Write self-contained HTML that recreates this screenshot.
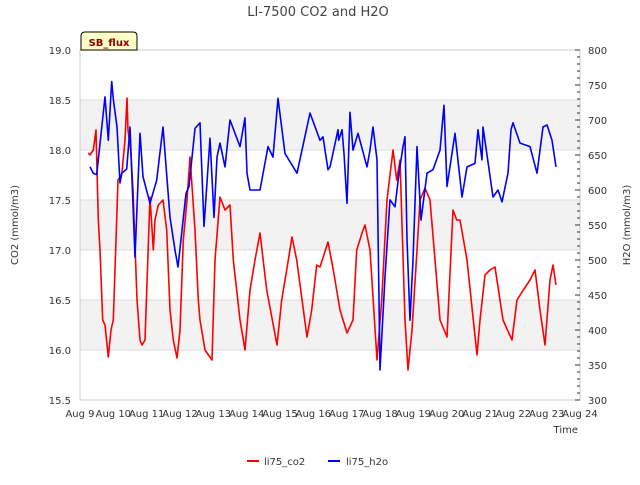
<!DOCTYPE html>
<html><head><meta charset="utf-8"><style>
body{margin:0;background:#fff;}
svg{font-family:"DejaVu Sans","Liberation Sans",sans-serif;}
</style></head><body>
<svg id="c" width="640" height="480" viewBox="0 0 640 480">
<text x="318" y="16" text-anchor="middle" font-size="13" fill="#444">LI-7500 CO2 and H2O</text>
<g id="bands"></g><g id="grid"></g>
<rect x="80" y="50" width="500" height="350" fill="none" stroke="#ccc"/>
<g id="lticks"></g><g id="rticks"></g><g id="xticks"></g>
<g id="series"></g>
<text transform="translate(18,225) rotate(-90)" text-anchor="middle" font-size="10" fill="#333">CO2 (mmol/m3)</text>
<text transform="translate(630,225) rotate(-90)" text-anchor="middle" font-size="10" fill="#333">H2O (mmol/m3)</text>
<text x="578" y="433" text-anchor="end" font-size="10" fill="#333">Time</text>
<g>
<path d="M81,50 V36 Q81,32 85,32 H133 Q137,32 137,36 V50 Z" fill="#ffffc8" stroke="#000"/>
<text x="109" y="46" text-anchor="middle" font-size="10" font-weight="bold" fill="#8b0000">SB_flux</text></g>
<g>
<g><line x1="247" y1="461" x2="259" y2="461" stroke="red" stroke-width="2"/><text x="264" y="465" font-size="10" fill="#333">li75_co2</text></g>
<g><line x1="328" y1="461" x2="340" y2="461" stroke="blue" stroke-width="2"/><text x="346" y="465" font-size="10" fill="#333">li75_h2o</text></g>
</g>
</svg>
<script>
const xTickLabels=["Aug 9","Aug 10","Aug 11","Aug 12","Aug 13","Aug 14","Aug 15","Aug 16","Aug 17","Aug 18","Aug 19","Aug 20","Aug 21","Aug 22","Aug 23","Aug 24"];
const leftTicks=[15.5,16.0,16.5,17.0,17.5,18.0,18.5,19.0];
const rightTicks=[300,350,400,450,500,550,600,650,700,750,800];
const co2Days=[0.25,0.3,0.4,0.48,0.55,0.6,0.68,0.75,0.85,0.93,1.0,1.05,1.14,1.25,1.35,1.41,1.44,1.52,1.59,1.71,1.8,1.86,1.95,2.1,2.2,2.25,2.35,2.49,2.6,2.7,2.8,2.91,3.0,3.1,3.21,3.3,3.45,3.55,3.6,3.75,3.96,4.05,4.2,4.35,4.5,4.6,4.8,4.95,5.1,5.25,5.4,5.6,5.91,6.05,6.2,6.36,6.5,6.81,6.95,7.1,7.2,7.44,7.6,7.8,8.01,8.19,8.3,8.49,8.55,8.7,8.91,9.05,9.21,9.39,9.5,9.6,9.75,9.84,9.96,10.11,10.2,10.35,10.5,10.65,10.8,11.01,11.19,11.3,11.4,11.61,11.8,11.91,12.0,12.15,12.3,12.45,12.69,12.96,13.11,13.3,13.5,13.65,13.8,13.95,14.1,14.19,14.28];
const co2Values=[17.97,17.95,18.0,18.2,17.3,17.0,16.3,16.25,15.93,16.2,16.3,16.8,17.7,17.75,18.1,18.52,18.2,18.0,17.6,16.5,16.1,16.05,16.1,17.53,17.0,17.3,17.45,17.5,17.2,16.4,16.1,15.92,16.2,17.1,17.5,17.93,17.2,16.5,16.3,16.0,15.9,16.9,17.53,17.4,17.45,16.9,16.3,16.0,16.6,16.9,17.17,16.6,16.05,16.5,16.8,17.13,16.9,16.13,16.4,16.85,16.83,17.08,16.8,16.4,16.17,16.3,17.0,17.2,17.25,17.0,15.9,16.5,17.5,18.0,17.7,17.9,16.3,15.8,16.2,17.0,17.5,17.62,17.5,16.9,16.3,16.13,17.4,17.3,17.3,16.9,16.3,15.95,16.3,16.75,16.8,16.83,16.3,16.1,16.5,16.6,16.7,16.8,16.4,16.05,16.7,16.85,16.65];
const h2oDays=[0.3,0.4,0.5,0.75,0.85,0.95,1.0,1.11,1.2,1.25,1.4,1.5,1.65,1.8,1.89,2.1,2.3,2.49,2.7,2.85,2.94,3.18,3.27,3.45,3.6,3.72,3.9,4.02,4.11,4.2,4.35,4.5,4.8,4.95,5.01,5.1,5.4,5.64,5.79,5.94,6.15,6.51,6.9,7.2,7.44,7.74,7.29,7.5,7.76,7.86,7.92,8.01,8.1,8.19,8.34,8.61,8.7,8.79,8.91,9.0,9.06,9.15,9.3,9.45,9.57,9.69,9.75,9.81,9.9,9.99,10.11,10.23,10.41,10.59,10.8,10.92,11.01,11.25,11.46,11.61,11.85,11.94,12.06,12.09,12.39,12.54,12.66,12.84,12.93,12.99,13.2,13.5,13.71,13.8,13.89,14.01,14.16,14.28];
const h2oValues=[633,624,622,733,671,755,730,690,610,624,630,690,504,681,619,581,614,690,561,514,490,595,605,688,696,548,674,561,647,667,633,700,662,703,624,600,600,662,647,731,652,624,710,671,629,686,676,633,671,686,652,581,711,657,681,633,657,690,643,343,396,476,586,576,624,662,676,529,414,500,662,557,624,629,657,721,605,681,590,633,638,686,643,690,590,600,583,624,686,696,667,662,624,657,690,693,671,633,617];
const NS="http://www.w3.org/2000/svg";
const X0=80,X1=580,Y0=50,Y1=400;
const xs=d=>X0+d*(X1-X0)/15;
const yl=v=>Y1-(v-15.5)*(Y1-Y0)/3.5;
const yr=v=>Y1-(v-300)*(Y1-Y0)/500;
function mk(p,tag,attrs){const e=document.createElementNS(NS,tag);for(const k in attrs)e.setAttribute(k,attrs[k]);p.appendChild(e);return e;}
const bands=document.getElementById('bands'),grid=document.getElementById('grid');
[[16.0,16.5],[17.0,17.5],[18.0,18.5]].forEach(b=>{const r=mk(bands,'rect',{x:X0,y:yl(b[1]),width:X1-X0,height:yl(b[0])-yl(b[1]),fill:'#f2f2f2'});

});
const lt=document.getElementById('lticks');
leftTicks.forEach(v=>{const l=mk(grid,'line',{x1:X0,x2:X1,y1:yl(v),y2:yl(v),stroke:'#ddd'});


const t=mk(lt,'text',{x:71,y:yl(v)+4,'text-anchor':'end','font-size':10,fill:'#333'});t.textContent=v.toFixed(1);

});
const rt=document.getElementById('rticks');
for(let v=300;v<=800;v+=10){const l=mk(rt,'line',{x1:X1,x2:X1-(v%50===0?5:3),y1:yr(v),y2:yr(v),stroke:'#333'});

}
rightTicks.forEach(v=>{const t=mk(rt,'text',{x:588,y:yr(v)+4,'font-size':10,fill:'#333'});t.textContent=v;

});
const xt=document.getElementById('xticks');
xTickLabels.forEach((s,i)=>{const t=mk(xt,'text',{x:xs(i),y:417,'text-anchor':'middle','font-size':10,fill:'#333'});t.textContent=s;

});
const ser=document.getElementById('series');
function line(days,vals,yf,color,name){const idx=days.map((d,i)=>i).sort((a,b)=>days[a]-days[b]);
const p=mk(ser,'polyline',{points:idx.map(i=>xs(days[i]).toFixed(1)+','+yf(vals[i]).toFixed(1)).join(' '),fill:'none',stroke:color,'stroke-width':1.6,'stroke-linejoin':'round'});

}
line(co2Days,co2Values,yl,'red','co2-line');
line(h2oDays,h2oValues,yr,'blue','h2o-line');
</script>
</body></html>
